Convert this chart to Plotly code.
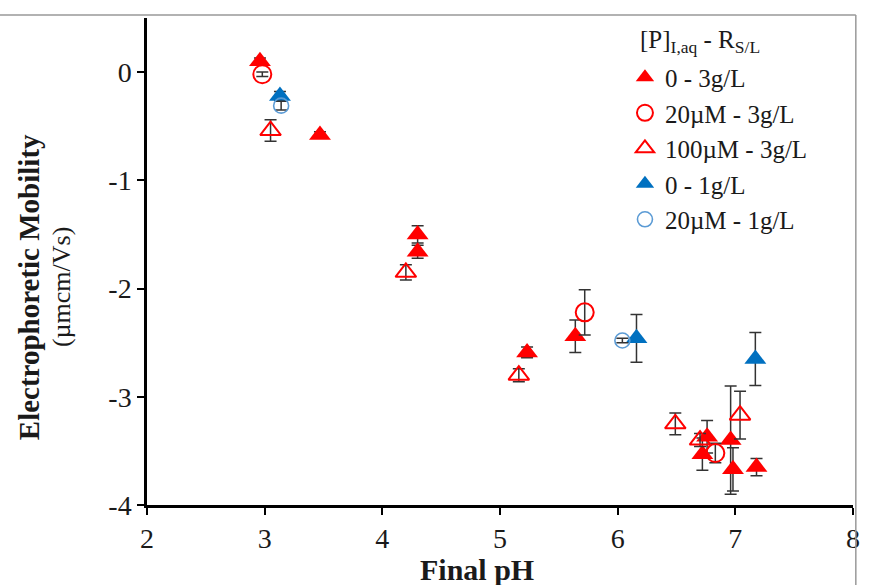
import plotly.graph_objects as go

# ---- data ----
ph_red_fill = [2.96, 3.47, 4.30, 4.30, 5.23, 5.64, 6.76, 6.72, 6.96, 6.98, 7.18]
mob_red_fill = [0.10, -0.58, -1.50, -1.66, -2.59, -2.44, -3.37, -3.53, -3.40, -3.67, -3.65]
err_red_fill = [0.03, 0.03, 0.08, 0.06, 0.05, 0.15, 0.15, 0.15, 0.50, 0.20, 0.08]

ph_red_circ = [2.98, 5.72, 6.83]
mob_red_circ = [-0.02, -2.22, -3.52]
err_red_circ = [0.02, 0.21, 0.09]

ph_red_open = [3.05, 4.20, 5.16, 6.49, 6.70, 7.04]
mob_red_open = [-0.54, -1.85, -2.80, -3.25, -3.40, -3.17]
err_red_open = [0.10, 0.07, 0.06, 0.10, 0.06, 0.22]

ph_blue_fill = [3.13, 6.16, 7.17]
mob_blue_fill = [-0.22, -2.46, -2.65]
err_blue_fill = [0.04, 0.22, 0.245]

ph_blue_circ = [3.14, 6.04]
mob_blue_circ = [-0.31, -2.48]
err_blue_circ = [0.04, 0.02]

names = ["0 - 3g/L", "20µM - 3g/L", "100µM - 3g/L", "0 - 1g/L", "20µM - 1g/L"]
x_ticks = [2, 3, 4, 5, 6, 7, 8]
y_ticks = [-4, -3, -2, -1, 0]

RED = "#FF0000"
BLUE = "#0070C0"
LBLUE = "#5B9BD5"
ERR = dict(type="data", visible=True, color="#333333", thickness=1.5, width=6)
FONT = "Liberation Serif, Times New Roman, serif"
TXT = "#1a1a1a"

fig = go.Figure()

def add(x, y, e, name, symbol, color, size, lw, group):
    marker = dict(symbol=symbol, size=size, color=color, line=dict(color=color, width=lw))
    fig.add_trace(go.Scatter(x=x, y=y, mode="markers", name=name, marker=marker,
                             error_y=dict(array=e, **ERR), legendgroup=group))

add(ph_red_fill, mob_red_fill, err_red_fill, names[0], "triangle-up", RED, 19, 0, "a")
add(ph_red_circ, mob_red_circ, err_red_circ, names[1], "circle-open", RED, 18, 2, "b")
add(ph_red_open, mob_red_open, err_red_open, names[2], "triangle-up-open", RED, 18, 2, "c")
add(ph_blue_fill, mob_blue_fill, err_blue_fill, names[3], "triangle-up", BLUE, 19, 0, "d")
add(ph_blue_circ, mob_blue_circ, err_blue_circ, names[4], "circle-open", LBLUE, 15, 1.6, "e")

fig.update_layout(
    width=869, height=585,
    margin=dict(l=147, r=9, t=18, b=80),
    paper_bgcolor="white", plot_bgcolor="white",
    font=dict(family=FONT, color=TXT, size=22),
    showlegend=True,
    legend=dict(
        x=0.677, y=0.925, xanchor="left", yanchor="top",
        bgcolor="rgba(255,255,255,0)",
        font=dict(family=FONT, size=25, color=TXT),
        tracegroupgap=0,
        itemwidth=30,
    ),
    xaxis=dict(
        range=[2, 8], tickvals=x_ticks, ticktext=[str(v) for v in x_ticks],
        showline=True, linecolor="black", linewidth=2.5, mirror=False,
        ticks="outside", ticklen=7, tickwidth=2, tickcolor="black",
        showgrid=False, zeroline=False,
        tickfont=dict(family=FONT, size=28, color=TXT),
    ),
    yaxis=dict(
        range=[-4, 0.5], tickvals=y_ticks, ticktext=[str(v) for v in y_ticks],
        showline=True, linecolor="black", linewidth=2.5, mirror=False,
        ticks="outside", ticklen=7, tickwidth=2, tickcolor="black",
        showgrid=False, zeroline=False,
        tickfont=dict(family=FONT, size=28, color=TXT),
    ),
    annotations=[
        dict(text="<b>Final pH</b>", xref="paper", yref="paper", x=0.468, y=-0.133,
             xanchor="center", yanchor="middle", showarrow=False,
             font=dict(family=FONT, size=30, color=TXT)),
        dict(text="<b>Electrophoretic Mobility</b>", xref="paper", yref="paper", x=-0.168, y=0.448,
             xanchor="center", yanchor="middle", showarrow=False, textangle=-90,
             font=dict(family=FONT, size=29, color=TXT)),
        dict(text="(µmcm/Vs)", xref="paper", yref="paper", x=-0.12, y=0.448,
             xanchor="center", yanchor="middle", showarrow=False, textangle=-90,
             font=dict(family=FONT, size=26, color=TXT)),
        dict(text="[P]<sub>I,aq</sub> - R<sub>S/L</sub>", xref="paper", yref="paper", x=0.696, y=0.951,
             xanchor="left", yanchor="middle", showarrow=False,
             font=dict(family=FONT, size=25, color=TXT)),
    ],
    shapes=[
        dict(type="line", xref="paper", yref="paper", x0=-0.3, x1=1.004, y0=1.006, y1=1.006,
             line=dict(color="#999", width=1.5)),
        dict(type="line", xref="paper", yref="paper", x0=1.004, x1=1.004, y0=-0.3, y1=1.006,
             line=dict(color="#999", width=1.5)),
    ],
)

fig.write_html("out.html")
